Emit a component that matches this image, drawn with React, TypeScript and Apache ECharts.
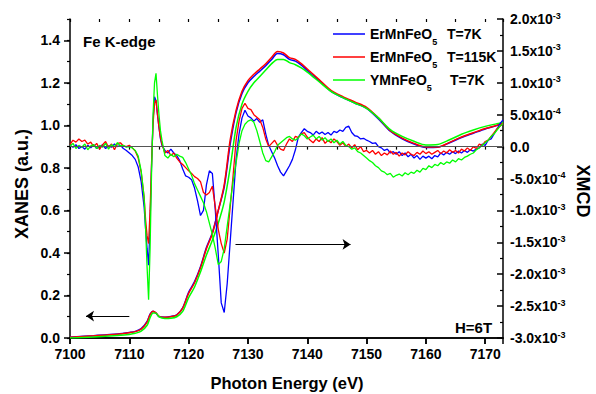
import React, { useEffect, useRef } from "react";
import * as echarts from "echarts";

// ---------- XANES (left axis, a.u.) ----------
const xanesEnergy = [
  7100, 7104, 7108, 7110, 7111, 7112, 7113, 7113.5, 7114, 7114.5, 7115,
  7116, 7117, 7118, 7119, 7120, 7121, 7122, 7123, 7124, 7125, 7126, 7127, 7128, 7129, 7130,
  7131, 7132, 7133, 7134, 7135, 7136, 7137, 7138, 7139, 7140,
  7142, 7144, 7146, 7148, 7150, 7152, 7154, 7156, 7158, 7160, 7162, 7164, 7166, 7168, 7170, 7172, 7173,
];
const xanesBlue = [
  0.004, 0.011, 0.019, 0.026, 0.031, 0.044, 0.078, 0.112, 0.126, 0.117, 0.101,
  0.098, 0.101, 0.109, 0.142, 0.215, 0.265, 0.335, 0.425, 0.495, 0.6, 0.71, 0.91, 1.06, 1.15, 1.2,
  1.23, 1.255, 1.28, 1.31, 1.338, 1.332, 1.31, 1.302, 1.283, 1.258,
  1.21, 1.16, 1.13, 1.105, 1.08, 1.03, 0.972, 0.937, 0.912, 0.896, 0.897, 0.918, 0.943, 0.963, 0.983, 1.0, 1.015,
];
const xanesRed = [
  0.003, 0.01, 0.018, 0.025, 0.03, 0.042, 0.075, 0.11, 0.126, 0.118, 0.102,
  0.097, 0.1, 0.108, 0.14, 0.21, 0.26, 0.33, 0.42, 0.49, 0.6, 0.72, 0.93, 1.07, 1.16, 1.21,
  1.24, 1.265, 1.29, 1.32, 1.347, 1.34, 1.318, 1.31, 1.29, 1.265,
  1.215, 1.165, 1.135, 1.11, 1.085, 1.035, 0.975, 0.94, 0.915, 0.898, 0.898, 0.92, 0.945, 0.965, 0.985, 1.0, 1.012,
];
const xanesGreen = [
  0.0, 0.005, 0.012, 0.017, 0.022, 0.032, 0.06, 0.095, 0.118, 0.117, 0.1,
  0.092, 0.093, 0.1, 0.125, 0.19, 0.24, 0.31, 0.39, 0.46, 0.54, 0.64, 0.8, 0.99, 1.1, 1.16,
  1.2, 1.23, 1.26, 1.29, 1.31, 1.31, 1.295, 1.285, 1.27, 1.25,
  1.205, 1.16, 1.13, 1.105, 1.08, 1.035, 0.98, 0.948, 0.925, 0.908, 0.91, 0.932, 0.958, 0.978, 0.995, 1.008, 1.015,
];

// ---------- XMCD (right axis, in units of 1e-3) ----------
const xmcdEnergy = [
  7100, 7100.5, 7101, 7101.5, 7102, 7102.5, 7103, 7103.5, 7104, 7104.5,
  7105, 7105.5, 7106, 7106.5, 7107, 7107.5, 7108, 7108.5, 7109, 7109.5,
  7110, 7110.5, 7111, 7111.5, 7112, 7112.5, 7112.75, 7113, 7113.25, 7113.5,
  7113.75, 7114, 7114.25, 7114.5, 7114.75, 7115, 7115.25, 7115.5,
  7116, 7116.5, 7117, 7117.5, 7118, 7118.5, 7119, 7119.5, 7120,
  7120.5, 7121, 7121.5, 7122, 7122.5, 7123, 7123.5, 7124, 7124.5, 7125,
  7125.5, 7126, 7126.5, 7127, 7127.5, 7128, 7128.5, 7129, 7129.5, 7130,
  7130.5, 7131, 7131.5, 7132, 7132.5, 7133, 7133.5, 7134, 7134.5, 7135,
  7135.5, 7136, 7136.5, 7137, 7137.5, 7138, 7138.5, 7139, 7139.5, 7140,
  7140.5, 7141, 7141.5, 7142, 7142.5, 7143, 7143.5, 7144, 7144.5, 7145,
  7145.5, 7146, 7146.5, 7147, 7147.5, 7148, 7148.5, 7149, 7149.5, 7150,
  7150.5, 7151, 7151.5, 7152, 7152.5, 7153, 7153.5, 7154, 7154.5, 7155,
  7155.5, 7156, 7156.5, 7157, 7157.5, 7158, 7158.5, 7159, 7159.5, 7160,
  7160.5, 7161, 7161.5, 7162, 7162.5, 7163, 7163.5, 7164, 7164.5, 7165,
  7165.5, 7166, 7166.5, 7167, 7167.5, 7168, 7168.5, 7169, 7169.5, 7170,
  7170.5, 7171, 7171.5, 7172, 7172.5, 7173,
];
const xmcdBlue = [
  0.02, -0.01, 0.03, -0.03, 0.0, -0.04, 0.02, -0.02, 0.03, -0.03,
  0.0, 0.03, -0.03, 0.01, -0.01, 0.04, 0.0, 0.02, -0.03, -0.06,
  -0.1, -0.14, -0.2, -0.32, -0.55, -0.95, -1.3, -1.6, -1.86, -1.2,
  -0.3, 0.4, 0.78, 0.72, 0.5, 0.3, 0.12, 0.02,
  -0.06, -0.1, -0.04, -0.1, -0.14, -0.22, -0.35, -0.46, -0.48,
  -0.52, -0.65, -0.85, -1.08, -1.0, -0.6, -0.38, -0.42, -1.0, -1.7,
  -2.45, -2.6, -2.15, -1.5, -0.85, -0.2, 0.2, 0.45, 0.57, 0.48,
  0.45, 0.4, 0.44, 0.38, 0.42, 0.2, 0.02, -0.08, -0.18, -0.3,
  -0.4, -0.46, -0.38, -0.3, -0.2, -0.05, 0.15, 0.22, 0.28, 0.24,
  0.22, 0.18, 0.24, 0.2, 0.23, 0.19, 0.22, 0.18, 0.24, 0.22,
  0.26, 0.24, 0.3, 0.32, 0.22, 0.17, 0.16, 0.12, 0.13, 0.1,
  0.08, 0.05, 0.06, 0.0, -0.02, -0.06, -0.04, -0.1, -0.08, -0.12,
  -0.08, -0.14, -0.1, -0.16, -0.12, -0.18, -0.14, -0.2, -0.15, -0.18,
  -0.15, -0.19, -0.14, -0.16, -0.1, -0.13, -0.09, -0.12, -0.08, -0.11,
  -0.07, -0.1, -0.06, -0.09, -0.05, -0.07, -0.04, -0.02, 0.04, 0.02,
  0.1, 0.12, 0.2, 0.28, 0.36, 0.42,
];
const xmcdRed = [
  0.03, 0.1, 0.07, 0.12, 0.08, 0.1, 0.04, 0.07, 0.0, 0.05,
  -0.04, 0.03, 0.08, -0.01, 0.04, -0.05, 0.05, 0.06, 0.01, 0.0,
  0.02, -0.02, -0.07, -0.18, -0.4, -0.8, -1.15, -1.4, -1.52, -1.0,
  -0.25, 0.35, 0.68, 0.73, 0.5, 0.3, 0.14, 0.04,
  -0.1, -0.06, -0.14, -0.1, -0.18, -0.24, -0.28, -0.33, -0.38,
  -0.42, -0.47, -0.5, -0.55, -0.72, -0.76, -0.72, -0.62, -0.95, -1.3,
  -1.52, -1.67, -1.45, -0.95, -0.45, 0.1, 0.4, 0.6, 0.68, 0.6,
  0.58, 0.5, 0.46, 0.42, 0.3, 0.12, 0.0, 0.05, 0.1, 0.02,
  -0.04, -0.06, 0.04, 0.12, 0.08, 0.16, 0.14, 0.2, 0.22, 0.15,
  0.1, 0.06, 0.12, 0.08, 0.14, 0.05, 0.1, 0.06, 0.12, 0.08,
  0.02, 0.06, 0.0, 0.04, -0.02, 0.03, -0.05, 0.0, -0.08, -0.06,
  -0.1, -0.06, -0.12, -0.08, -0.14, -0.1, -0.13, -0.07, -0.12, -0.09,
  -0.15, -0.1, -0.13, -0.08, -0.12, -0.14, -0.09, -0.12, -0.07, -0.11,
  -0.08, -0.12, -0.09, -0.06, -0.11, -0.07, -0.1, -0.05, -0.09, -0.06,
  -0.1, -0.04, -0.07, -0.02, -0.06, 0.0, -0.03, 0.04, 0.02, 0.08,
  0.1, 0.16, 0.22, 0.28, 0.32, 0.36,
];
const xmcdGreen = [
  0.01, 0.05, -0.03, 0.02, -0.01, 0.04, -0.05, 0.01, 0.03, -0.03,
  0.02, -0.01, 0.05, -0.04, 0.03, 0.0, 0.06, 0.01, 0.02, -0.01,
  0.0, -0.02, -0.06, -0.15, -0.38, -0.8, -1.3, -1.9, -2.4, -1.6,
  -0.4, 0.5, 1.0, 1.15, 0.8, 0.5, 0.25, 0.1,
  -0.14, -0.18, -0.12, -0.16, -0.12, -0.15, -0.17, -0.25, -0.35,
  -0.45, -0.58, -0.68, -0.78, -0.88, -1.02, -1.2, -1.38, -1.6, -1.85,
  -1.8, -1.6, -1.25, -0.9, -0.55, -0.25, 0.05, 0.25, 0.35, 0.4,
  0.42, 0.38, 0.25, 0.08, -0.1, -0.22, -0.24, -0.16, -0.08, 0.02,
  0.06, 0.1, 0.14, 0.16, 0.12, 0.1, 0.14, 0.2, 0.17, 0.12,
  0.15, 0.18, 0.12, 0.16, 0.1, 0.14, 0.08, 0.12, 0.06, 0.1,
  0.04, 0.08, 0.02, 0.0, -0.04, -0.02, -0.08, -0.1, -0.14, -0.18,
  -0.22, -0.25, -0.3, -0.33, -0.38, -0.4, -0.44, -0.42, -0.48, -0.45,
  -0.43, -0.46, -0.41, -0.44, -0.4, -0.42, -0.37, -0.4, -0.34, -0.36,
  -0.3, -0.33, -0.28, -0.3, -0.25, -0.28, -0.24, -0.26, -0.21, -0.24,
  -0.19, -0.21, -0.17, -0.15, -0.12, -0.1, -0.05, -0.02, 0.02, 0.06,
  0.1, 0.16, 0.2, 0.26, 0.32, 0.36,
];

// ---------- labels ----------
const legendCompounds = ["ErMnFeO", "ErMnFeO", "YMnFeO"];
const legendTemps = ["T=7K", "T=115K", "T=7K"];
const seriesColors = ["#0000ff", "#ff0000", "#00ff00"];
const edgeLabel = "Fe K-edge";
const fieldLabel = "H=6T";
const xTitle = "Photon Energy (eV)";
const yLeftTitle = "XANES (a.u.)";
const yRightTitle = "XMCD";

const FONT = "'Liberation Sans', Arial, Helvetica, sans-serif";

function pairs(xs: number[], ys: number[]) {
  return xs.map((x, i) => [x, ys[i]]);
}

function xmcdLabel(v: number) {
  const r = Math.round(v * 100) / 100;
  if (r === 0) return "0.0";
  if (Math.abs(r) === 0.5) return (r < 0 ? "-" : "") + "5.0x10{sup|-4}";
  return r.toFixed(1) + "x10{sup|-3}";
}

export default function App() {
  const ref = useRef<HTMLDivElement>(null);
  useEffect(() => {
    const chart = echarts.init(ref.current!, null, { renderer: "svg" });
    const black = "#000";
    const axisLineStyle = { color: black, width: 1.5 };
    const labelStyle = { color: black, fontSize: 14, fontWeight: "bold" as const, fontFamily: FONT };

    const xanesSets = [xanesBlue, xanesRed, xanesGreen];
    const xmcdSets = [xmcdBlue, xmcdRed, xmcdGreen];

    const series: any[] = [];
    xanesSets.forEach((d, i) => {
      series.push({
        type: "line",
        xAxisIndex: 0,
        yAxisIndex: 0,
        data: pairs(xanesEnergy, d),
        showSymbol: false,
        smooth: 0.3,
        lineStyle: { color: seriesColors[i], width: 1.5 },
        z: 3,
        markLine:
          i === 1
            ? {
                silent: true,
                symbol: ["none", "arrow"],
                symbolSize: 8,
                label: { show: false },
                lineStyle: { color: "#000", width: 1, type: "solid" },
                data: [
                  [{ coord: [7110, 0.103] }, { coord: [7102.7, 0.103] }],
                  [{ coord: [7127.9, 0.44] }, { coord: [7147.3, 0.44] }],
                ],
              }
            : undefined,
      });
    });
    xmcdSets.forEach((d, i) => {
      series.push({
        type: "line",
        xAxisIndex: 0,
        yAxisIndex: 1,
        data: pairs(xmcdEnergy, d),
        showSymbol: false,
        lineStyle: { color: seriesColors[i], width: 1.3 },
        z: 3,
        markLine:
          i === 0
            ? {
                silent: true,
                symbol: "none",
                label: { show: false },
                lineStyle: { color: "#555", width: 1, type: "solid" },
                data: [{ yAxis: 0 }],
              }
            : undefined,
      });
    });

    const graphic: any[] = [];
    const legendY = [34, 57, 80];
    legendY.forEach((y, i) => {
      graphic.push({
        type: "line",
        shape: { x1: 333, y1: y, x2: 365, y2: y },
        style: { stroke: seriesColors[i], lineWidth: 1.5 },
        z: 10,
      });
      graphic.push({
        type: "text",
        x: 370,
        y,
        style: {
          text: legendCompounds[i] + "{sub|5}",
          fill: black,
          fontSize: 14,
          fontWeight: "bold",
          fontFamily: FONT,
          verticalAlign: "middle",
          align: "left",
          lineHeight: 24,
          rich: {
            sub: { fontSize: 9, fontWeight: "bold", fontFamily: FONT, lineHeight: 9, verticalAlign: "bottom", fill: black },
          },
        },
        z: 10,
      });
      graphic.push({
        type: "text",
        x: i === 2 ? 450 : 447,
        y,
        style: {
          text: legendTemps[i],
          fill: black,
          fontSize: 14,
          fontWeight: "bold",
          fontFamily: FONT,
          verticalAlign: "middle",
          align: "left",
        },
        z: 10,
      });
    });
    graphic.push(
      {
        type: "text",
        x: 83,
        y: 41,
        style: { text: edgeLabel, fill: black, fontSize: 15, fontWeight: "bold", fontFamily: FONT, verticalAlign: "middle", align: "left" },
      },
      {
        type: "text",
        x: 455,
        y: 327,
        style: { text: fieldLabel, fill: black, fontSize: 15, fontWeight: "bold", fontFamily: FONT, verticalAlign: "middle", align: "left" },
      },
      {
        type: "text",
        x: 287,
        y: 383,
        style: { text: xTitle, fill: black, fontSize: 16.5, fontWeight: "bold", fontFamily: FONT, verticalAlign: "middle", align: "center" },
      },
      {
        type: "text",
        x: 22,
        y: 184,
        rotation: Math.PI / 2,
        style: { text: yLeftTitle, fill: black, fontSize: 18, fontWeight: "bold", fontFamily: FONT, verticalAlign: "middle", align: "center" },
      },
      {
        type: "text",
        x: 583,
        y: 191,
        rotation: -Math.PI / 2,
        style: { text: yRightTitle, fill: black, fontSize: 18, fontWeight: "bold", fontFamily: FONT, verticalAlign: "middle", align: "center" },
      }
    );

    const xCommon = { type: "value", min: 7100, max: 7173, splitLine: { show: false } };
    const option: any = {
      animation: false,
      backgroundColor: "#fff",
      grid: { left: 70, right: 93, top: 19, bottom: 56, containLabel: false },
      xAxis: [
        {
          ...xCommon,
          position: "bottom",
          interval: 10,
          axisLine: { show: true, lineStyle: axisLineStyle },
          axisTick: { show: true, inside: false, length: 6, lineStyle: { color: black, width: 1.5 } },
          axisLabel: { ...labelStyle, margin: 9, showMaxLabel: false, formatter: (v: number) => String(Math.round(v)) },
        },
        {
          ...xCommon,
          position: "bottom",
          interval: 5,
          axisLine: { show: false },
          axisTick: { show: true, inside: false, length: 3, lineStyle: { color: black, width: 1.2 } },
          axisLabel: { show: false },
        },
        {
          ...xCommon,
          position: "top",
          interval: 10,
          axisLine: { show: true, lineStyle: axisLineStyle },
          axisTick: { show: true, inside: true, length: 6, lineStyle: { color: black, width: 1.5 } },
          axisLabel: { show: false },
        },
        {
          ...xCommon,
          position: "top",
          interval: 5,
          axisLine: { show: false },
          axisTick: { show: true, inside: true, length: 3, lineStyle: { color: black, width: 1.2 } },
          axisLabel: { show: false },
        },
      ],
      yAxis: [
        {
          type: "value",
          position: "left",
          min: 0,
          max: 1.5,
          interval: 0.2,
          splitLine: { show: false },
          axisLine: { show: true, lineStyle: axisLineStyle },
          axisTick: { show: true, inside: false, length: 6, lineStyle: { color: black, width: 1.5 } },
          axisLabel: { ...labelStyle, margin: 10, showMaxLabel: false, formatter: (v: number) => v.toFixed(1) },
        },
        {
          type: "value",
          position: "right",
          min: -3,
          max: 2,
          interval: 0.5,
          splitLine: { show: false },
          axisLine: { show: true, lineStyle: axisLineStyle },
          axisTick: { show: true, inside: true, length: 6, lineStyle: { color: black, width: 1.5 } },
          minorTick: { show: true, splitNumber: 2, length: 3, lineStyle: { color: black, width: 1.2 } },
          axisLabel: {
            ...labelStyle,
            margin: 7,
            lineHeight: 16,
            formatter: xmcdLabel,
            rich: {
              sup: { fontSize: 9, fontWeight: "bold", fontFamily: FONT, color: black, lineHeight: 9, verticalAlign: "top" },
            },
          },
        },
        {
          type: "value",
          position: "left",
          min: 0,
          max: 1.5,
          interval: 0.1,
          splitLine: { show: false },
          axisLine: { show: false },
          axisTick: { show: true, inside: false, length: 3, lineStyle: { color: black, width: 1.2 } },
          axisLabel: { show: false },
        },
      ],
      series,
      graphic,
    };
    chart.setOption(option);
    return () => chart.dispose();
  }, []);
  return (
    <div
      ref={ref}
      style={{ position: "fixed", left: 0, top: 0, width: 596, height: 394, background: "#fff" }}
    />
  );
}
